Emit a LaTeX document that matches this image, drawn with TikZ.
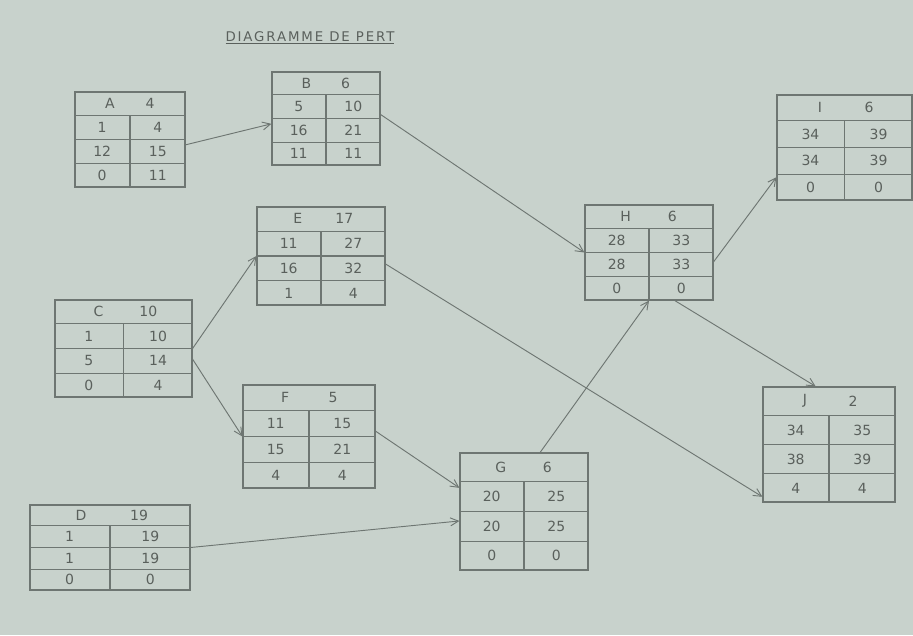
\documentclass[tikz,border=0pt]{standalone}
\usepackage{fontspec}
\setmainfont{DejaVu Sans}
\usetikzlibrary{calc,arrows.meta}
\definecolor{paper}{HTML}{C8D2CC}
\definecolor{pencil}{HTML}{6E7672}
\definecolor{ink}{HTML}{5A605C}
\tikzset{
  pbox/.style={draw=pencil, line width=0.9pt, inner sep=0pt},
  gridline/.style={draw=pencil, line width=0.8pt},
  txt/.style={text=ink, font=\fontsize{10.5}{12}\selectfont, inner sep=0pt},
  link/.style={draw=pencil, line width=0.7pt, -{Straight Barb[length=6pt,width=6pt]}},
}
\newcommand\pert[9]{%
  \foreach \f in {0.25,0.5,0.75}{%
    \draw[gridline] ($(#1.north west)!\f!(#1.south west)$) -- ($(#1.north east)!\f!(#1.south east)$);}
  \draw[gridline] ($(#1.north)!0.25!(#1.south)$) -- (#1.south);
  \coordinate (#1-xa) at ($(#1.north west)!0.32!(#1.north east)$);
  \coordinate (#1-xb) at ($(#1.north west)!0.68!(#1.north east)$);
  \coordinate (#1-xl) at ($(#1.north west)!0.25!(#1.north east)$);
  \coordinate (#1-xr) at ($(#1.north west)!0.75!(#1.north east)$);
  \coordinate (#1-y0) at ($(#1.north west)!0.125!(#1.south west)$);
  \coordinate (#1-y1) at ($(#1.north west)!0.375!(#1.south west)$);
  \coordinate (#1-y2) at ($(#1.north west)!0.625!(#1.south west)$);
  \coordinate (#1-y3) at ($(#1.north west)!0.875!(#1.south west)$);
  \node[txt] (#1-h1) at (#1-xa |- #1-y0) {#2};
  \node[txt] (#1-h2) at (#1-xb |- #1-y0) {#3};
  \node[txt] (#1-a) at (#1-xl |- #1-y1) {#4};
  \node[txt] (#1-b) at (#1-xr |- #1-y1) {#5};
  \node[txt] (#1-c) at (#1-xl |- #1-y2) {#6};
  \node[txt] (#1-d) at (#1-xr |- #1-y2) {#7};
  \node[txt] (#1-e) at (#1-xl |- #1-y3) {#8};
  \node[txt] (#1-f) at (#1-xr |- #1-y3) {#9};
}
\begin{document}
\begin{tikzpicture}[x=0.75pt,y=-0.75pt]
  \fill[paper] (0,0) rectangle (913,635);
  \useasboundingbox (0,0) rectangle (913,635);
  \node[txt, font=\fontsize{10}{12}\selectfont\addfontfeatures{LetterSpace=14}] (title) at (310,38) {\underline{DIAGRAMME DE PERT}};
  % boxes
  \node[pbox, minimum width=82.5pt, minimum height=71.25pt] (A) at (130,139.5) {};
  \node[pbox, minimum width=81pt, minimum height=69.75pt] (B) at (326,118.5) {};
  \node[pbox, minimum width=96pt, minimum height=73.5pt] (E) at (321,256) {};
  \node[pbox, minimum width=102.75pt, minimum height=72.75pt] (C) at (123.5,348.5) {};
  \node[pbox, minimum width=99pt, minimum height=77.25pt] (F) at (309,436.5) {};
  \node[pbox, minimum width=120pt, minimum height=63.75pt] (D) at (110,547.5) {};
  \node[pbox, minimum width=96pt, minimum height=87.75pt] (G) at (524,511.5) {};
  \node[pbox, minimum width=96pt, minimum height=71.25pt] (H) at (649,252.5) {};
  \node[pbox, minimum width=101.25pt, minimum height=78.75pt] (I) at (844.5,147.5) {};
  \node[pbox, minimum width=99pt, minimum height=86.25pt] (J) at (829,444.5) {};
  \pert{A}{A}{4}{1}{4}{12}{15}{0}{11}
  \pert{B}{B}{6}{5}{10}{16}{21}{11}{11}
  \pert{E}{E}{17}{11}{27}{16}{32}{1}{4}
  \pert{C}{C}{10}{1}{10}{5}{14}{0}{4}
  \pert{F}{F}{5}{11}{15}{15}{21}{4}{4}
  \pert{D}{D}{19}{1}{19}{1}{19}{0}{0}
  \pert{G}{G}{6}{20}{25}{20}{25}{0}{0}
  \pert{H}{H}{6}{28}{33}{28}{33}{0}{0}
  \pert{I}{I}{6}{34}{39}{34}{39}{0}{0}
  \pert{J}{J}{2}{34}{35}{38}{39}{4}{4}
  % connectors
  \draw[link] ([yshift=-4pt]A.east) -- ([yshift=-4pt]B.west);
  \draw[link] ([yshift=3pt]B.east) -- (H.west);
  \draw[link] (C.east) -- (E.west);
  \draw[link] ([yshift=-8pt]C.east) -- (F.west);
  \draw[link] ([yshift=-6pt]E.east) -- ($(J.west)!0.9!(J.south west)$);
  \draw[link] ([yshift=4pt]F.east) -- ($(G.north west)!0.3!(G.south west)$);
  \draw[link] (D.east) -- ($(G.north west)!0.58!(G.south west)$);
  \draw[link] ($(G.north)!0.25!(G.north east)$) -- (H.south);
  \draw[link] ([yshift=-7pt]H.east) -- ($(I.north west)!0.78!(I.south west)$);
  \draw[link] ($(H.south)!0.4!(H.south east)$) -- ($(J.north west)!0.8!(J.north)$);
\end{tikzpicture}
\end{document}
